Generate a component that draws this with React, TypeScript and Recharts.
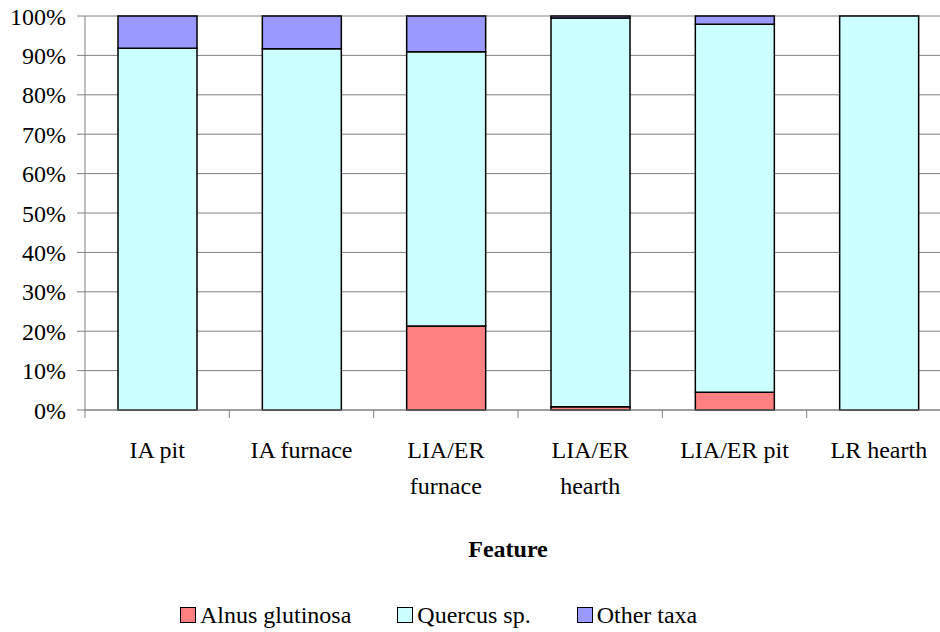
import { BarChart, Bar, XAxis, YAxis, CartesianGrid, Legend } from 'recharts'

const features = ['IA pit', 'IA furnace', 'LIA/ER\nfurnace', 'LIA/ER\nhearth', 'LIA/ER pit', 'LR hearth']
const alnus = [0, 0, 21.3, 0.8, 4.5, 0]
const quercus = [91.8, 91.7, 69.6, 98.7, 93.4, 100]
const other = [8.2, 8.3, 9.1, 0.5, 2.1, 0]
const yTicks = [0, 10, 20, 30, 40, 50, 60, 70, 80, 90, 100]
const seriesNames = ['Alnus glutinosa', 'Quercus sp.', 'Other taxa']

const data = features.map((f, i) => ({
  feature: f,
  alnus: alnus[i],
  quercus: quercus[i],
  other: other[i],
}))

const FONT = "'Liberation Serif', 'Noto Serif', 'DejaVu Serif', 'Tinos', 'FreeSerif', serif"
const GREY = '#808080'

function FeatureTick(props: any) {
  const { x, y, payload } = props
  const lines = String(payload.value).split('\n')
  const edge = x - (payload.offset || 0)
  return (
    <g>
      <line x1={edge} y1={y - 8} x2={edge} y2={y} stroke={GREY} />
      <text x={x} y={y + 40} textAnchor="middle" fontSize={24} fontFamily={FONT} fill="#000">
        {lines.map((l, i) => (
          <tspan key={i} x={x} dy={i === 0 ? 0 : 36}>{l}</tspan>
        ))}
      </text>
    </g>
  )
}

function AxisTitle(props: any) {
  const { viewBox } = props
  return (
    <text
      x={viewBox.x + viewBox.width / 2 - 10}
      y={viewBox.y + 147}
      textAnchor="middle"
      fontSize={24}
      fontWeight="bold"
      fontFamily={FONT}
      fill="#000"
    >
      Feature
    </text>
  )
}

function LegendBox(props: any) {
  const items = [...(props.payload || [])].sort(
    (a: any, b: any) => seriesNames.indexOf(a.value) - seriesNames.indexOf(b.value)
  )
  return (
    <div style={{ height: 30, lineHeight: '30px', display: 'flex', alignItems: 'center', paddingLeft: 180, gap: 46, fontFamily: FONT, fontSize: 24 }}>
      {items.map((p: any) => (
        <div key={p.value} style={{ display: 'flex', alignItems: 'center' }}>
          <span style={{ width: 14, height: 14, background: p.color, border: '1px solid #000', marginRight: 4 }} />
          <span>{p.value}</span>
        </div>
      ))}
    </div>
  )
}

export default function App() {
  return (
    <div style={{ width: 940, height: 632, overflow: 'hidden', background: '#fff', fontFamily: FONT }}>
      <style>{'body { margin: 0; }'}</style>
      <BarChart
        width={960}
        height={632}
        data={data}
        margin={{ top: 16, right: 9, left: 0, bottom: 0 }}
        barSize={79}
      >
        <CartesianGrid vertical={false} stroke={GREY} />
        <XAxis
          dataKey="feature"
          height={192}
          interval={0}
          tickLine={false}
          tickSize={8}
          tickMargin={0}
          stroke={GREY}
          tick={<FeatureTick />}
          label={<AxisTitle />}
        />
        <YAxis
          width={85}
          domain={[0, 100]}
          ticks={yTicks}
          interval={0}
          tickSize={8}
          tickMargin={11}
          stroke={GREY}
          tickFormatter={(v: number) => `${v}%`}
          tick={{ fill: '#000', fontSize: 24, fontFamily: FONT }}
        />
        <Legend
          verticalAlign="bottom"
          content={<LegendBox />}
          wrapperStyle={{ left: 0, top: 600, width: 940, height: 30 }}
        />
        <Bar dataKey="alnus" name="Alnus glutinosa" stackId="a" fill="#FF8080" stroke="#000" strokeWidth={1.5} isAnimationActive={false} />
        <Bar dataKey="quercus" name="Quercus sp." stackId="a" fill="#CCFFFF" stroke="#000" strokeWidth={1.5} isAnimationActive={false} />
        <Bar dataKey="other" name="Other taxa" stackId="a" fill="#9999FF" stroke="#000" strokeWidth={1.5} isAnimationActive={false} />
      </BarChart>
    </div>
  )
}
